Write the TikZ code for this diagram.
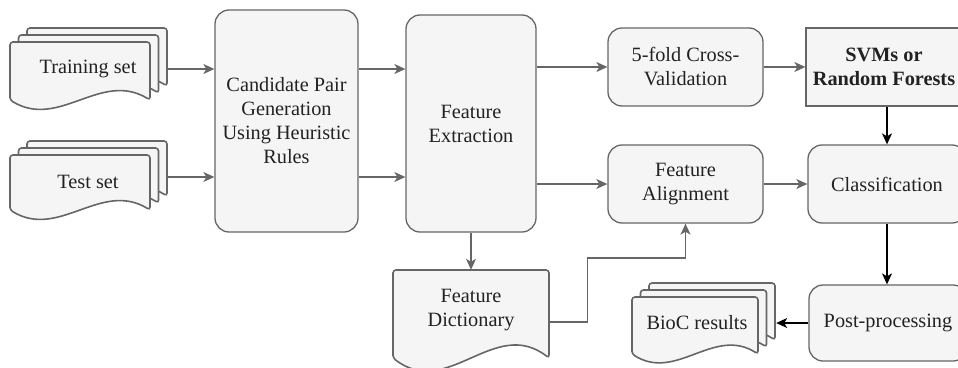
\documentclass[tikz,border=0pt]{standalone}
\usepackage{fontspec}
\setmainfont{Liberation Serif}
\newfontfamily\diagfont{Liberation Serif}
\usetikzlibrary{arrows.meta}
\definecolor{linegray}{HTML}{666666}
\definecolor{boxfill}{HTML}{F5F5F5}
\definecolor{textgray}{HTML}{222222}
\newcommand{\boxfont}{\diagfont\fontsize{20.3}{24}\selectfont}
% document outline: left, top, right, wave end, wave depth
\newcommand{\flowdoc}[5]{%
  \draw[docline] (#1,#4) -- (#1,#2) -- (#3,#2) -- (#3,#4)
    .. controls ({#1+0.65*(#3-#1)},{#4-#5}) and ({#1+0.35*(#3-#1)},{#4+#5}) .. (#1,#4) -- cycle;}

\begin{document}
\begin{tikzpicture}[x=1pt, y=-1pt,
    every node/.style={font=\boxfont, text=textgray, align=center, inner sep=0pt},
    box/.style={draw=linegray, fill=boxfill, line width=1.3pt, rounded corners=14pt},
    sqbox/.style={box, rounded corners=0pt, font=\boxfont\bfseries},
    docline/.style={draw=linegray, fill=boxfill, line width=1.6pt, rounded corners=3pt},
    garrow/.style={-{Stealth[length=11pt,width=10pt,inset=3pt]}, draw=linegray, line width=1.3pt},
    karrow/.style={garrow, draw=black}]
    \useasboundingbox (0,0) rectangle (958,367);

    \foreach \k in {2,1,0} {
        \begin{scope}[shift={(8.5*\k,-7*\k)}]
            \flowdoc{10}{42}{150}{100}{30}
            \flowdoc{10}{155}{150}{210}{30}
            \flowdoc{632}{297}{758}{354}{28}
        \end{scope}
    }
    \flowdoc{393}{270}{549}{358}{42}

    \node[minimum width=158pt, minimum height=66pt] (train) at (88,69) {Training set};
    \node[minimum width=158pt, minimum height=60pt] (test) at (88,182) {Test set};
    \node[minimum width=158pt, minimum height=60pt] (bioc) at (697,323) {BioC results};
    \node[minimum width=156pt, minimum height=80pt] (fdict) at (471,310) {Feature\\Dictionary};

    \node[box, minimum width=143pt, minimum height=222pt] (cand) at (286.5,121)
        {Candidate Pair\\Generation\\Using Heuristic\\Rules};
    \node[box, minimum width=130pt, minimum height=217pt] (fext) at (471,123.5) {Feature\\Extraction};
    \node[box, minimum width=155pt, minimum height=78pt] (fold) at (685.5,67) {5-fold Cross-\\Validation};
    \node[box, minimum width=155pt, minimum height=78pt] (align) at (685.5,184) {Feature\\Alignment};
    \node[sqbox, minimum width=156pt, minimum height=78pt] (svm) at (884,67) {SVMs or\\Random Forests};
    \node[box, minimum width=158pt, minimum height=78pt] (cls) at (887,184) {Classification};
    \node[box, minimum width=158pt, minimum height=76pt] (post) at (888,323) {Post-processing};

    \draw[garrow] (train.east) -- (train.east -| cand.west);
    \draw[garrow] ([yshift=5pt]test.east) -- ([yshift=5pt]test.east -| cand.west);
    \draw[garrow] ([yshift=52pt]cand.east) -- ([yshift=52pt]cand.east -| fext.west);
    \draw[garrow] ([yshift=-56pt]cand.east) -- ([yshift=-56pt]cand.east -| fext.west);
    \draw[garrow] (fext.east |- fold.west) -- (fold.west);
    \draw[garrow] (fext.east |- align.west) -- (align.west);
    \draw[garrow] (fold.east) -- (svm.west);
    \draw[garrow] (align.east) -- (cls.west);
    \draw[garrow] (fext.south) -- (fext.south |- fdict.north);
    \draw[garrow] ([yshift=-12pt]fdict.east) -- ++(38,0) -- ++(0,-64) -| (align.south);
    \draw[karrow] (svm.south -| cls.north) -- (cls.north);
    \draw[karrow] (cls.south) -- (cls.south |- post.north);
    \draw[karrow] (post.west) -- (bioc.east);
\end{tikzpicture}
\end{document}
